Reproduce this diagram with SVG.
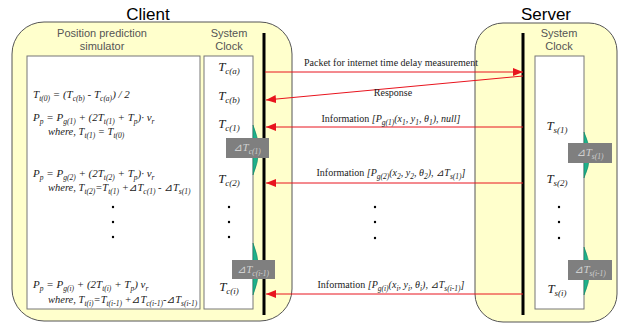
<svg xmlns="http://www.w3.org/2000/svg" width="621" height="329" viewBox="0 0 621 329">
<style>
.title{font-family:"Liberation Sans",Arial,sans-serif;font-size:17px;fill:#000;text-anchor:middle}
.hdr{font-family:"Liberation Sans",Arial,sans-serif;font-size:11px;fill:#555;text-anchor:middle}
.m{font-family:"Liberation Serif","DejaVu Sans","Noto Sans CJK JP",serif;font-style:italic;font-size:11px;fill:#222}
.w{font-size:10.5px}
.s{font-size:7.5px}
.clk{font-family:"Liberation Serif",serif;font-style:italic;font-size:13px;fill:#222;text-anchor:middle}
.cs{font-size:9px}
.lbl{font-family:"Liberation Serif","DejaVu Sans","Noto Sans CJK JP",serif;font-size:10px;fill:#222;text-anchor:middle}
.it{font-style:italic}
.dt{font-family:"Liberation Serif","DejaVu Sans","Noto Sans CJK JP",serif;font-style:italic;font-size:11px;fill:#d0d0d0;text-anchor:middle}
.panel{fill:#ffffcc;stroke:#555;stroke-width:1}
.box{fill:#fff;stroke:#777;stroke-width:1}
.gbox{fill:#7f7f7f}
.green{fill:#1fb08a;stroke:#0d7a5e;stroke-width:0.5}
.bar{stroke:#000;stroke-width:3}
.arr{stroke:#e8141e;stroke-width:1;fill:none;marker-end:url(#ah)}
.dot{fill:#000}
</style>
<defs>
<marker id="ah" markerUnits="userSpaceOnUse" markerWidth="11" markerHeight="8" refX="10" refY="4" orient="auto">
<path d="M0,0 L10,4 L0,8 z" fill="#e8141e"/>
</marker>
</defs>
<rect width="621" height="329" fill="#fff"/>

<g id="client">
<rect class="panel" x="12" y="22" width="280" height="299" rx="32" ry="32"/>
<text class="title" x="148" y="20">Client</text>
<text class="hdr" x="102" y="37">Position prediction</text>
<text class="hdr" x="102" y="50">simulator</text>
<text class="hdr" x="229" y="37">System</text>
<text class="hdr" x="229" y="50">Clock</text>
</g>

<g id="simulator">
<rect class="box" x="27" y="56" width="173" height="253"/>
<text class="m" x="33" y="98">T<tspan class="s" dy="3">t(0)</tspan><tspan dy="-3"> = (T</tspan><tspan class="s" dy="3">c(b)</tspan><tspan dy="-3"> - T</tspan><tspan class="s" dy="3">c(a)</tspan><tspan dy="-3">) / 2</tspan></text>
<text class="m" x="33" y="121">P<tspan class="s" dy="3">p</tspan><tspan dy="-3"> = P</tspan><tspan class="s" dy="3">g(1)</tspan><tspan dy="-3"> + (2T</tspan><tspan class="s" dy="3">t(1)</tspan><tspan dy="-3"> + T</tspan><tspan class="s" dy="3">p</tspan><tspan dy="-3">)· v</tspan><tspan class="s" dy="3">r</tspan></text>
<text class="m w" x="48" y="135">where, T<tspan class="s" dy="3">t(1)</tspan><tspan dy="-3"> = T</tspan><tspan class="s" dy="3">t(0)</tspan></text>
<text class="m" x="33" y="177">P<tspan class="s" dy="3">p</tspan><tspan dy="-3"> = P</tspan><tspan class="s" dy="3">g(2)</tspan><tspan dy="-3"> + (2T</tspan><tspan class="s" dy="3">t(2)</tspan><tspan dy="-3"> + T</tspan><tspan class="s" dy="3">p</tspan><tspan dy="-3">)· v</tspan><tspan class="s" dy="3">r</tspan></text>
<text class="m w" x="48" y="191">where, T<tspan class="s" dy="3">t(2)</tspan><tspan dy="-3">=T</tspan><tspan class="s" dy="3">t(1)</tspan><tspan dy="-3"> +⊿T</tspan><tspan class="s" dy="3">c(1)</tspan><tspan dy="-3"> - ⊿T</tspan><tspan class="s" dy="3">s(1)</tspan></text>
<circle class="dot" cx="113" cy="207" r="1.2"/>
<circle class="dot" cx="113" cy="222" r="1.2"/>
<circle class="dot" cx="113" cy="237" r="1.2"/>
<text class="m" x="33" y="288">P<tspan class="s" dy="3">p</tspan><tspan dy="-3"> = P</tspan><tspan class="s" dy="3">g(i)</tspan><tspan dy="-3"> + (2T</tspan><tspan class="s" dy="3">t(i)</tspan><tspan dy="-3"> + T</tspan><tspan class="s" dy="3">p</tspan><tspan dy="-3">) v</tspan><tspan class="s" dy="3">r</tspan></text>
<text class="m w" x="48" y="303">where, T<tspan class="s" dy="3">t(i)</tspan><tspan dy="-3">=T</tspan><tspan class="s" dy="3">t(i-1)</tspan><tspan dy="-3"> +⊿T</tspan><tspan class="s" dy="3">c(i-1)</tspan><tspan dy="-3">-⊿T</tspan><tspan class="s" dy="3">s(i-1)</tspan></text>
</g>

<g id="client-clock">
<rect class="box" x="204" y="56" width="49" height="253"/>
<text class="clk" x="229" y="71">T<tspan class="cs" dy="3">c(a)</tspan></text>
<text class="clk" x="229" y="100">T<tspan class="cs" dy="3">c(b)</tspan></text>
<text class="clk" x="229" y="128">T<tspan class="cs" dy="3">c(1)</tspan></text>
<text class="clk" x="229" y="183">T<tspan class="cs" dy="3">c(2)</tspan></text>
<circle class="dot" cx="229" cy="207" r="1.2"/>
<circle class="dot" cx="229" cy="222" r="1.2"/>
<circle class="dot" cx="229" cy="237" r="1.2"/>
<text class="clk" x="229" y="291">T<tspan class="cs" dy="3">c(i)</tspan></text>
<path class="green" d="M253,125 Q264,150 253,175 Z"/>
<path class="green" d="M253,243 Q264,269 253,295 Z"/>
<line class="bar" x1="264" y1="33" x2="264" y2="315"/>
</g>

<g id="dTc1">
<rect class="gbox" x="226" y="138" width="43" height="20"/>
<text class="dt" x="247" y="151">⊿T<tspan class="s" dy="3">c(1)</tspan></text>
</g>
<g id="dTci">
<rect class="gbox" x="232" y="260" width="43" height="19"/>
<text class="dt" x="253" y="273">⊿T<tspan class="s" dy="3">c(i-1)</tspan></text>
</g>

<g id="server">
<rect class="panel" x="475" y="23" width="142" height="299" rx="28" ry="28"/>
<text class="title" x="546" y="20">Server</text>
<text class="hdr" x="559" y="37">System</text>
<text class="hdr" x="559" y="50">Clock</text>
<line class="bar" x1="523" y1="33" x2="523" y2="315"/>
</g>

<g id="server-clock">
<rect class="box" x="535" y="56" width="49" height="253"/>
<text class="clk" x="557" y="130">T<tspan class="cs" dy="3">s(1)</tspan></text>
<text class="clk" x="557" y="183">T<tspan class="cs" dy="3">s(2)</tspan></text>
<circle class="dot" cx="559" cy="207" r="1.2"/>
<circle class="dot" cx="559" cy="222" r="1.2"/>
<circle class="dot" cx="559" cy="238" r="1.2"/>
<text class="clk" x="557" y="293">T<tspan class="cs" dy="3">s(i)</tspan></text>
<path class="green" d="M584,132 Q595,155 584,178 Z"/>
<path class="green" d="M584,247 Q595,271 584,295 Z"/>
</g>

<g id="dTs1">
<rect class="gbox" x="568" y="143" width="44" height="20"/>
<text class="dt" x="590" y="156">⊿T<tspan class="s" dy="3">s(1)</tspan></text>
</g>
<g id="dTsi">
<rect class="gbox" x="568" y="260" width="44" height="20"/>
<text class="dt" x="590" y="273">⊿T<tspan class="s" dy="3">s(i-1)</tspan></text>
</g>

<g id="connectors">
<line class="arr" x1="265" y1="72" x2="523" y2="72"/>
<line class="arr" x1="523" y1="76" x2="266" y2="100"/>
<line class="arr" x1="523" y1="127" x2="266" y2="127"/>
<line class="arr" x1="523" y1="183" x2="266" y2="183"/>
<line class="arr" x1="523" y1="294" x2="266" y2="294"/>
<text class="lbl" x="391" y="66">Packet for internet time delay measurement</text>
<text class="lbl" x="393" y="96">Response</text>
<text class="lbl" x="391" y="122">Information <tspan class="it">[P</tspan><tspan class="it s" dy="3">g(1)</tspan><tspan class="it" dy="-3">(x</tspan><tspan class="it s" dy="3">1</tspan><tspan class="it" dy="-3">, y</tspan><tspan class="it s" dy="3">1</tspan><tspan class="it" dy="-3">, θ</tspan><tspan class="it s" dy="3">1</tspan><tspan class="it" dy="-3">), null]</tspan></text>
<text class="lbl" x="391" y="176">Information <tspan class="it">[P</tspan><tspan class="it s" dy="3">g(2)</tspan><tspan class="it" dy="-3">(x</tspan><tspan class="it s" dy="3">2</tspan><tspan class="it" dy="-3">, y</tspan><tspan class="it s" dy="3">2</tspan><tspan class="it" dy="-3">, θ</tspan><tspan class="it s" dy="3">2</tspan><tspan class="it" dy="-3">), ⊿T</tspan><tspan class="it s" dy="3">s(1)</tspan><tspan class="it" dy="-3">]</tspan></text>
<circle class="dot" cx="375" cy="207" r="1.2"/>
<circle class="dot" cx="375" cy="222" r="1.2"/>
<circle class="dot" cx="375" cy="238" r="1.2"/>
<text class="lbl" x="391" y="288">Information <tspan class="it">[P</tspan><tspan class="it s" dy="3">g(i)</tspan><tspan class="it" dy="-3">(x</tspan><tspan class="it s" dy="3">i</tspan><tspan class="it" dy="-3">, y</tspan><tspan class="it s" dy="3">i</tspan><tspan class="it" dy="-3">, θ</tspan><tspan class="it s" dy="3">i</tspan><tspan class="it" dy="-3">), ⊿T</tspan><tspan class="it s" dy="3">s(i-1)</tspan><tspan class="it" dy="-3">]</tspan></text>
</g>
</svg>
